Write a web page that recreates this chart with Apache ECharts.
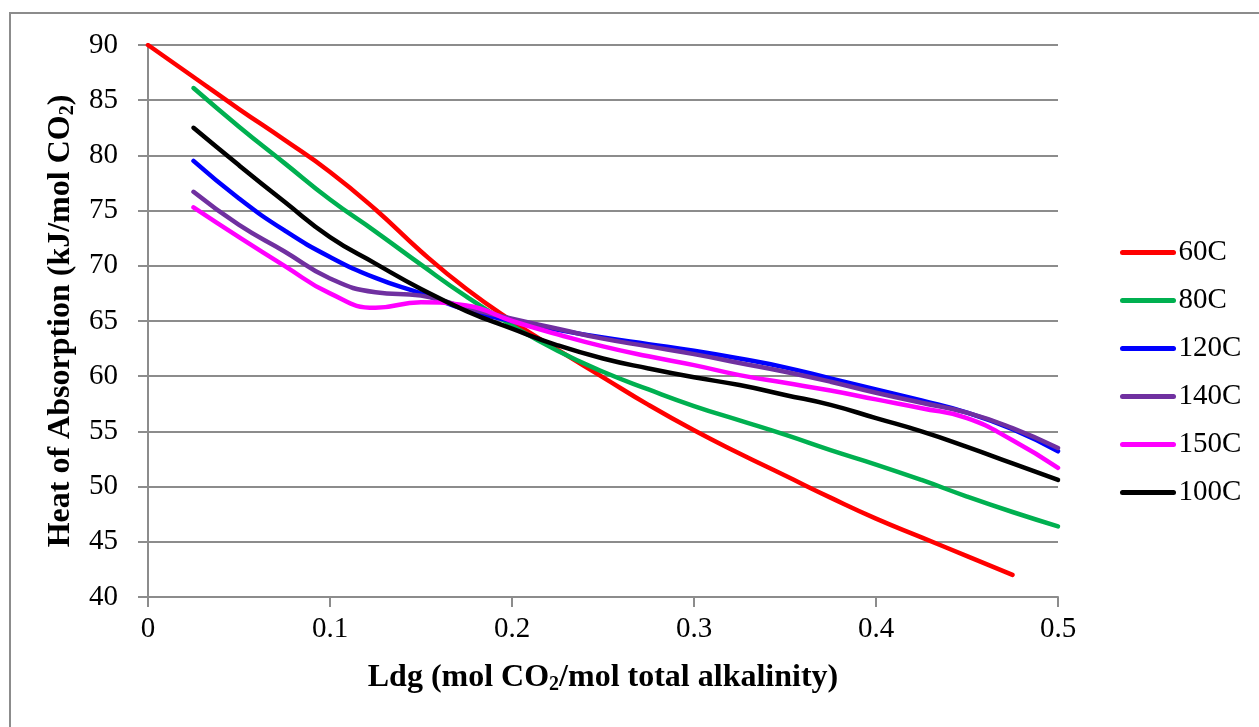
<!DOCTYPE html>
<html>
<head>
    <meta charset="utf-8">
    <title>Heat of Absorption</title>
    <script src="https://cdn.jsdelivr.net/npm/echarts@6/dist/echarts.min.js"></script>
    <style>
        html, body { margin: 0; padding: 0; background: #fff; }
        #main { width: 1259px; height: 727px; }
    </style>
</head>
<body>
<div id="main"></div>
<script>
    // loading values (mol CO2 / mol total alkalinity)
    var ldg60 = [0, 0.025, 0.05, 0.075, 0.1, 0.125, 0.15, 0.175, 0.2, 0.225,
                 0.25, 0.275, 0.3, 0.325, 0.35, 0.375, 0.4, 0.425, 0.45, 0.475];
    var ldgOther = [0.025, 0.05, 0.075, 0.1, 0.125, 0.15, 0.175, 0.2, 0.225, 0.25,
                    0.275, 0.3, 0.325, 0.35, 0.375, 0.4, 0.425, 0.45, 0.475, 0.5];

    // heat of absorption, kJ/mol CO2
    var h60  = [90, 87.1, 84.2, 81.4, 78.5, 75.1, 71.3, 67.9, 65.0, 62.4,
                59.9, 57.4, 55.1, 53.0, 51.0, 49.0, 47.1, 45.4, 43.7, 42.0];
    var h80  = [86.1, 82.6, 79.3, 76.0, 73.1, 70.1, 67.2, 64.6, 62.3, 60.4,
                58.8, 57.3, 56.0, 54.7, 53.3, 52.0, 50.6, 49.1, 47.7, 46.4];
    var h120 = [79.5, 76.1, 73.2, 70.8, 68.9, 67.5, 66.0, 65.0, 64.2, 63.5,
                62.9, 62.3, 61.6, 60.8, 59.8, 58.8, 57.8, 56.7, 55.2, 53.2];
    var h140 = [76.7, 73.7, 71.3, 68.85, 67.6, 67.3, 66.2, 65.2, 64.3, 63.4,
                62.7, 62.0, 61.2, 60.4, 59.5, 58.5, 57.6, 56.7, 55.3, 53.5];
    var h150 = [75.3, 72.6, 70.0, 67.5, 66.2, 66.7, 66.4, 65.0, 63.8, 62.7,
                61.8, 61.0, 60.1, 59.4, 58.7, 57.9, 57.1, 56.2, 54.2, 51.7];
    var h100 = [82.5, 79.1, 75.8, 72.6, 70.2, 67.9, 65.9, 64.3, 62.8, 61.6,
                60.7, 59.9, 59.2, 58.3, 57.4, 56.2, 55.0, 53.6, 52.1, 50.6];

    var seriesNames = ['60C', '80C', '120C', '140C', '150C', '100C'];
    var seriesColors = ['#ff0000', '#00b050', '#0000ff', '#7030a0', '#ff00ff', '#000000'];
    var seriesX = [ldg60, ldgOther, ldgOther, ldgOther, ldgOther, ldgOther];
    var seriesY = [h60, h80, h120, h140, h150, h100];

    function pairs(xs, ys) {
        var out = [];
        for (var i = 0; i < xs.length; i++) out.push([xs[i], ys[i]]);
        return out;
    }

    var font = '"Liberation Serif", "Times New Roman", serif';
    var gray = '#8c8c8c';

    var series = [];
    for (var i = 0; i < seriesNames.length; i++) {
        series.push({
            name: seriesNames[i],
            type: 'line',
            data: pairs(seriesX[i], seriesY[i]),
            smooth: 0.5,
            symbol: 'none',
            lineStyle: { color: seriesColors[i], width: 4.5, cap: 'round', join: 'round' },
            itemStyle: { color: seriesColors[i] }
        });
    }

    var subStyle = { fontFamily: font, fontSize: 20, fontWeight: 'bold', color: '#000',
                     verticalAlign: 'bottom', padding: [14, 0, 0, 0] };

    var myChart = echarts.init(document.getElementById('main'));
    var option = {
        animation: false,
        backgroundColor: '#fff',
        graphic: [{
            type: 'rect',
            shape: { x: 10, y: 13, width: 1300, height: 800 },
            style: { fill: 'none', stroke: gray, lineWidth: 2 },
            silent: true
        }],
        grid: { left: 148, top: 45, right: 201, bottom: 130 },
        legend: {
            orient: 'vertical',
            left: 1115,
            top: 233,
            itemWidth: 51,
            itemHeight: 26,
            itemGap: 19,
            data: seriesNames,
            itemStyle: { opacity: 0 },
            lineStyle: { width: 5, cap: 'round' },
            textStyle: { fontFamily: font, fontSize: 29, color: '#000', lineHeight: 26, padding: [0, 0, 0, 0] }
        },
        xAxis: {
            type: 'value',
            min: 0,
            max: 0.5,
            interval: 0.1,
            name: 'Ldg (mol CO{sub|2}/mol total alkalinity)',
            nameLocation: 'middle',
            nameGap: 64,
            nameTextStyle: {
                fontFamily: font, fontSize: 32, fontWeight: 'bold', color: '#000',
                rich: { sub: subStyle }
            },
            axisLine: { show: true, lineStyle: { color: gray, width: 2 } },
            axisTick: { show: true, length: 10, lineStyle: { color: gray, width: 2 } },
            axisLabel: { fontFamily: font, fontSize: 29, color: '#000', margin: 18 },
            splitLine: { show: false }
        },
        yAxis: {
            type: 'value',
            min: 40,
            max: 90,
            interval: 5,
            name: 'Heat of Absorption (kJ/mol CO{sub|2})',
            nameLocation: 'middle',
            nameGap: 64,
            nameRotate: 90,
            nameTextStyle: {
                fontFamily: font, fontSize: 32, fontWeight: 'bold', color: '#000',
                rich: { sub: subStyle }
            },
            axisLine: { show: true, lineStyle: { color: gray, width: 2 } },
            axisTick: { show: true, length: 10, lineStyle: { color: gray, width: 2 } },
            axisLabel: { fontFamily: font, fontSize: 29, color: '#000', margin: 30 },
            splitLine: { show: true, lineStyle: { color: gray, width: 2 } }
        },
        series: series
    };
    myChart.setOption(option);
</script>
</body>
</html>
